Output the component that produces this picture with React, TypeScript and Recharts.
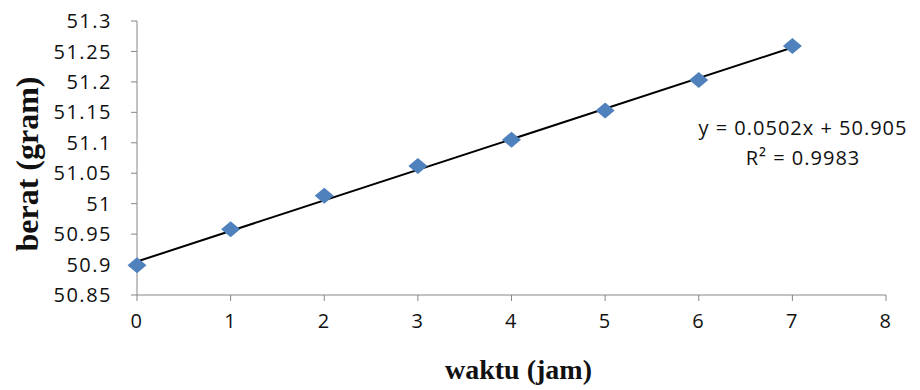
import { ComposedChart, Line, Scatter, XAxis, YAxis } from 'recharts'

// berat sampel per jam
const waktu = [0, 1, 2, 3, 4, 5, 6, 7]
const berat = [50.899, 50.958, 51.013, 51.062, 51.105, 51.153, 51.203, 51.259]

const xTicks = [0, 1, 2, 3, 4, 5, 6, 7, 8]
const yTicks = [50.85, 50.9, 50.95, 51, 51.05, 51.1, 51.15, 51.2, 51.25, 51.3]

// linear trendline from the regression
const slope = 0.0502
const intercept = 50.905
const trendX = [0, 7]

const points = waktu.map((x, i) => ({ x, y: berat[i] }))
const trend = trendX.map((x) => ({ x, y: slope * x + intercept }))

const axisColor = '#868686'
const tickStyle = { fontFamily: '"Open Sans", sans-serif', fontSize: 20, fill: '#111', letterSpacing: 1.5 }
const titleStyle = { fontFamily: '"Liberation Serif", serif', fontWeight: 700, fill: '#111' }

function Diamond({ cx, cy }: { cx?: number; cy?: number }) {
  if (cx == null || cy == null) return null
  return <path d={`M${cx},${cy - 8}L${cx + 9.5},${cy}L${cx},${cy + 8}L${cx - 9.5},${cy}Z`} fill="#4f81bd" />
}

function YTitle({ viewBox }: { viewBox?: { x: number; y: number; width: number; height: number } }) {
  if (!viewBox) return null
  const cx = viewBox.x + 27
  const cy = viewBox.y + viewBox.height / 2 + 6
  return (
    <text
      x={cx}
      y={cy}
      transform={`rotate(-90 ${cx} ${cy})`}
      textAnchor="middle"
      dominantBaseline="central"
      style={{ ...titleStyle, fontSize: 32 }}
    >
      berat (gram)
    </text>
  )
}

export default function App() {
  return (
    <div style={{ position: 'relative', width: 920, height: 390, background: '#fff' }}>
      <style>{`body{margin:0}`}</style>
      <ComposedChart width={920} height={390} margin={{ top: 21, right: 34, bottom: 0, left: 0 }}>
        <XAxis
          type="number"
          dataKey="x"
          domain={[0, 8]}
          ticks={xTicks}
          height={95}
          stroke={axisColor}
          tickSize={6}
          tickMargin={13}
          tick={tickStyle}
          label={{ value: 'waktu (jam)', position: 'insideBottom', offset: 11, dx: 7, style: { ...titleStyle, fontSize: 28 } }}
        />
        <YAxis
          type="number"
          dataKey="y"
          domain={[50.85, 51.3]}
          ticks={yTicks}
          width={137}
          stroke={axisColor}
          tickSize={6}
          tickMargin={19}
          tick={tickStyle}
          label={<YTitle />}
        />
        <Scatter data={points} dataKey="y" shape={<Diamond />} isAnimationActive={false} />
        <Line data={trend} dataKey="y" stroke="#000" strokeWidth={2} dot={false} activeDot={false} isAnimationActive={false} />
      </ComposedChart>
      <div
        style={{
          position: 'absolute',
          left: 683,
          top: 113,
          width: 240,
          textAlign: 'center',
          fontFamily: '"Open Sans", sans-serif',
          fontSize: 20,
          letterSpacing: 1,
          lineHeight: '30px',
          color: '#111',
        }}
      >
        <div>y = 0.0502x + 50.905</div>
        <div>R² = 0.9983</div>
      </div>
    </div>
  )
}
